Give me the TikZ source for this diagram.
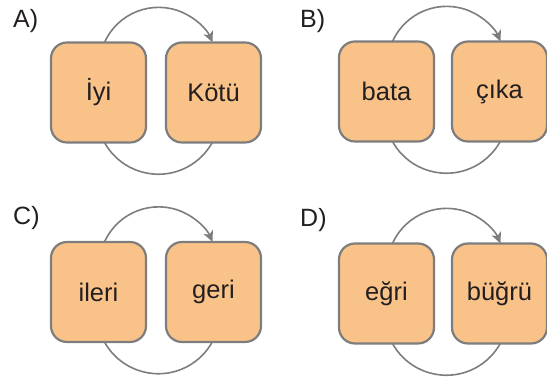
\documentclass[tikz,border=0pt]{standalone}
\usepackage{fontspec}
\setmainfont{Liberation Sans}
\usetikzlibrary{arrows.meta,calc}
\definecolor{boxfill}{HTML}{F9C288}
\definecolor{boxline}{HTML}{7D7D7D}
\definecolor{txt}{HTML}{231F20}
\tikzset{
  wordbox/.style={draw=boxline, fill=boxfill, line width=2.2pt, rounded corners=16pt,
    minimum width=95pt, minimum height=100pt, inner sep=0pt, text=txt,
    font=\fontsize{25.5}{30}\selectfont},
  lbl/.style={anchor=base west, inner sep=0pt, text=txt, font=\fontsize{25}{28}\selectfont},
  loop/.style={draw=boxline, line width=1.6pt},
  looparrow/.style={loop, -{Stealth[length=11pt,width=10pt,inset=3pt]}}
}
\begin{document}
\begin{tikzpicture}[x=1pt,y=1pt]
\useasboundingbox (0,0) rectangle (547,382);
% positions
\coordinate (pa1) at (98.5,289.5);
\coordinate (pa2) at (213.5,289.5);
\coordinate (pb1) at (386.5,290.5);
\coordinate (pb2) at (499.5,290.5);
\coordinate (pc1) at (98.5,90);
\coordinate (pc2) at (213.5,90);
\coordinate (pd1) at (386.5,88.5);
\coordinate (pd2) at (499.5,88.5);
% arcs (behind boxes)
\foreach \p in {a,b,c,d}{
  \path (p\p1) ++(6,50) coordinate (s\p);
  \path (p\p1) ++(6,-50) coordinate (t\p);
  \draw[looparrow] (s\p) arc[start angle=156, end angle=24, radius=59.2];
  \draw[loop] (t\p) arc[start angle=209, end angle=331, radius=61.6];
}
% boxes
\node[wordbox] (a1) at (pa1) {İyi};
\node[wordbox] (a2) at (pa2) {Kötü};
\node[wordbox] (b1) at (pb1) {bata};
\node[wordbox] (b2) at (pb2) {çıka};
\node[wordbox] (c1) at (pc1) {ileri};
\node[wordbox] (c2) at (pc2) {geri};
\node[wordbox] (d1) at (pd1) {eğri};
\node[wordbox] (d2) at (pd2) {büğrü};
% labels
\node[lbl] (la) at (13,354) {A)};
\node[lbl] (lb) at (300,354) {B)};
\node[lbl] (lc) at (13,157) {C)};
\node[lbl] (ld) at (300,155) {D)};
\end{tikzpicture}
\end{document}
